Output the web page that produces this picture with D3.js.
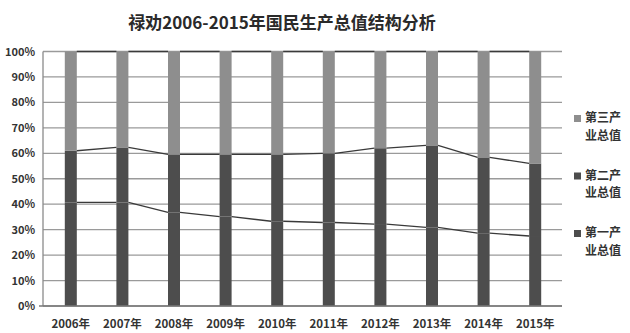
<!DOCTYPE html>
<html>
<head>
<meta charset="utf-8">
<script src="https://cdn.jsdelivr.net/npm/d3@7/dist/d3.min.js"></script>
<style>
  html, body { margin: 0; padding: 0; background: #fff; }
  svg { display: block; }
  text { font-family: "Noto Sans CJK SC", "Noto Sans", sans-serif; }
</style>
</head>
<body>
<svg id="chart" width="630" height="333"></svg>
<script>
// 禄劝 GDP structure by sector, share of total (%)
const years = ["2006年", "2007年", "2008年", "2009年", "2010年", "2011年", "2012年", "2013年", "2014年", "2015年"];
const primary   = [40.7, 40.7, 36.8, 35.1, 33.3, 32.8, 32.2, 30.9, 28.6, 27.5];
const secondary = [20.3, 21.6, 22.8, 24.5, 26.3, 27.2, 29.8, 32.2, 29.8, 28.5];
const tertiary  = [39.0, 37.7, 40.4, 40.4, 40.4, 40.0, 38.0, 36.9, 41.6, 44.0];
const seriesNames = ["第一产业总值", "第二产业总值", "第三产业总值"];
const yTicks = [0, 10, 20, 30, 40, 50, 60, 70, 80, 90, 100];

const colors = ["#4d4d4d", "#4d4d4d", "#8e8e8e"];
const svg = d3.select("#chart");

const plotLeft = 43, plotRight = 562, plotTop = 51.5, plotBottom = 306;
const x = d3.scaleBand().domain(years).range([45, 561]).paddingInner(0).paddingOuter(0);
const y = d3.scaleLinear().domain([0, 100]).range([plotBottom, plotTop]);
const barW = 12;
const barX = d => x(d) + x.bandwidth() / 2 - barW / 2;

// gridlines
svg.append("g").selectAll("line").data(yTicks).join("line")
  .attr("x1", plotLeft).attr("x2", plotRight)
  .attr("y1", d => y(d)).attr("y2", d => y(d))
  .attr("stroke", "#9a9a9a").attr("stroke-width", 1.3);

// stacked data
const rows = years.map((yr, i) => ({ year: yr, p: primary[i], s: secondary[i], t: tertiary[i] }));
const stack = d3.stack().keys(["p", "s", "t"]);
const layers = stack(rows);

svg.append("g").selectAll("g").data(layers).join("g")
  .attr("fill", (d, i) => colors[i])
  .selectAll("rect").data(d => d).join("rect")
  .attr("x", d => barX(d.data.year))
  .attr("width", barW)
  .attr("y", d => y(d[1]))
  .attr("height", d => y(d[0]) - y(d[1]));

// series lines joining the segment tops of neighbouring bars
layers.forEach(layer => {
  const segs = [];
  for (let i = 0; i < layer.length - 1; i++) {
    segs.push({
      x1: barX(layer[i].data.year) + barW, y1: y(layer[i][1]),
      x2: barX(layer[i + 1].data.year), y2: y(layer[i + 1][1])
    });
  }
  svg.append("g").selectAll("line").data(segs).join("line")
    .attr("x1", d => d.x1).attr("y1", d => d.y1)
    .attr("x2", d => d.x2).attr("y2", d => d.y2)
    .attr("stroke", "#3a3a3a").attr("stroke-width", 1.3);
});

// axis lines
svg.append("line").attr("x1", plotLeft).attr("x2", plotLeft).attr("y1", plotTop).attr("y2", plotBottom)
  .attr("stroke", "#8a8a8a").attr("stroke-width", 1.3);
svg.append("line").attr("x1", plotLeft - 4).attr("x2", plotRight).attr("y1", plotBottom).attr("y2", plotBottom)
  .attr("stroke", "#777").attr("stroke-width", 1.5);

// y tick labels
svg.append("g").selectAll("text").data(yTicks).join("text")
  .attr("x", 35).attr("y", d => y(d) + 4)
  .attr("text-anchor", "end")
  .attr("font-size", 11).attr("font-weight", "bold").attr("fill", "#333")
  .text(d => d + "%");

// x tick labels
svg.append("g").selectAll("text").data(years).join("text")
  .attr("x", d => x(d) + x.bandwidth() / 2).attr("y", 328)
  .attr("text-anchor", "middle")
  .attr("font-size", 11.5).attr("font-weight", "bold").attr("fill", "#333")
  .text(d => d);

// title
svg.append("text").attr("x", 282).attr("y", 29)
  .attr("text-anchor", "middle")
  .attr("font-size", 17).attr("font-weight", "bold").attr("fill", "#2a2a2a")
  .text("禄劝2006-2015年国民生产总值结构分析");

// legend, third sector on top; each name wraps onto two lines
const legendItems = [2, 1, 0];
const lg = svg.append("g").selectAll("g").data(legendItems).join("g")
  .attr("transform", (d, i) => `translate(574, ${122 + i * 57.5})`);
lg.append("rect").attr("x", 0).attr("y", -7).attr("width", 7).attr("height", 7)
  .attr("fill", d => colors[d]);
lg.append("text").attr("x", 11).attr("y", 0)
  .attr("font-size", 12).attr("font-weight", "bold").attr("fill", "#333")
  .text(d => seriesNames[d].slice(0, 3));
lg.append("text").attr("x", 11).attr("y", 17.6)
  .attr("font-size", 12).attr("font-weight", "bold").attr("fill", "#333")
  .text(d => seriesNames[d].slice(3));
</script>
</body>
</html>
